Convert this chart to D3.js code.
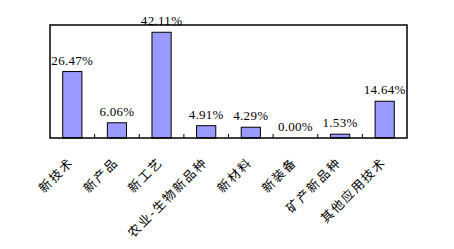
<!DOCTYPE html>
<html>
<head>
<meta charset="utf-8">
<script src="https://cdn.jsdelivr.net/npm/d3@7"></script>
<style>
  body { margin: 0; background: #fff; }
  .val { font-family: "Liberation Serif", "DejaVu Serif", serif; font-size: 13px; fill: #000; letter-spacing: 0.3px; }
  .cat { font-family: "Noto Sans CJK SC", sans-serif; font-size: 12.5px; fill: #000; letter-spacing: 1.8px; }
</style>
</head>
<body>
<div id="chart"></div>
<script>
// categories and their shares (%)
var categories = ["新技术", "新产品", "新工艺", "农业-生物新品种", "新材料", "新装备", "矿产新品种", "其他应用技术"];
var values = [26.47, 6.06, 42.11, 4.91, 4.29, 0.00, 1.53, 14.64];
var valueLabels = ["26.47%", "6.06%", "42.11%", "4.91%", "4.29%", "0.00%", "1.53%", "14.64%"];

var margin = {top: 25, right: 47, bottom: 111, left: 50},
    width = 454 - margin.left - margin.right,
    height = 249 - margin.top - margin.bottom;

var svg = d3.select("#chart").append("svg")
    .attr("width", 454)
    .attr("height", 249);

var g = svg.append("g")
    .attr("transform", "translate(" + margin.left + "," + margin.top + ")");

var x = d3.scaleBand()
    .domain(categories)
    .range([0, width])
    .paddingInner(0.57)
    .paddingOuter(0.285);

var y = d3.scaleLinear()
    .domain([0, 45])
    .range([height, 0]);

// tick marks between categories
var step = width / categories.length;
g.selectAll(".tk")
    .data(d3.range(1, categories.length))
    .enter().append("line")
    .attr("x1", function(i) { return i * step; })
    .attr("x2", function(i) { return i * step; })
    .attr("y1", height)
    .attr("y2", height - 4)
    .attr("stroke", "#000");

g.selectAll(".bar")
    .data(values)
    .enter().append("rect")
    .attr("x", function(d, i) { return x(categories[i]); })
    .attr("y", function(d) { return y(d); })
    .attr("width", x.bandwidth())
    .attr("height", function(d) { return height - y(d); })
    .attr("fill", "#9999ff")
    .attr("stroke", "#000")
    .attr("stroke-width", 1);

g.append("rect")
    .attr("width", width)
    .attr("height", height)
    .attr("fill", "none")
    .attr("stroke", "#000")
    .attr("stroke-width", 1.5);

g.selectAll(".val")
    .data(values)
    .enter().append("text")
    .attr("class", "val")
    .attr("x", function(d, i) { return x(categories[i]) + x.bandwidth() / 2; })
    .attr("y", function(d) { return y(d) - 7; })
    .attr("text-anchor", "middle")
    .text(function(d, i) { return valueLabels[i]; });

g.selectAll(".cat")
    .data(categories)
    .enter().append("text")
    .attr("class", "cat")
    .attr("text-anchor", "end")
    .attr("transform", function(d) {
        return "translate(" + (x(d) + x.bandwidth() / 2 - 1) + "," + (height + 22) + ") rotate(-45)";
    })
    .attr("dy", "0.35em")
    .text(function(d) { return d; });
</script>
</body>
</html>
